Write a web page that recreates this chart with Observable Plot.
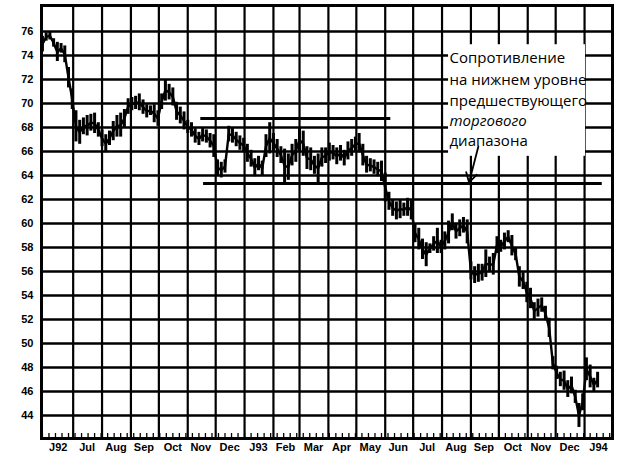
<!DOCTYPE html>
<html><head><meta charset="utf-8">
<script src="https://cdn.jsdelivr.net/npm/d3@7"></script>
<script src="https://cdn.jsdelivr.net/npm/@observablehq/plot@0.6"></script>
<style>body{margin:0;background:#fff;}</style>
</head><body><div id="chart"></div>
<script>
const startDate = "1992-05-29";
const stepDays = 4;
const highs = [
75.6,75.9,76.0,75.4,75.1,75.0,74.8,73.0,71.2,69.4,
68.6,68.8,69.0,69.1,69.2,68.4,67.8,67.4,67.7,68.5,
69.0,69.2,69.5,70.4,70.5,70.6,70.8,70.3,69.9,69.8,
69.9,69.4,70.8,72.0,71.6,71.3,70.1,69.7,69.3,68.6,
68.4,67.9,67.6,68.0,67.8,67.5,67.4,65.3,65.1,65.3,
68.1,68.0,67.6,67.3,67.1,66.6,66.1,65.4,65.6,65.2,
67.4,68.4,67.5,67.0,66.4,66.2,65.8,66.6,67.0,68.0,
67.7,66.4,66.3,65.6,65.8,66.3,66.3,66.7,66.5,66.3,
66.5,66.1,66.8,67.0,67.2,67.5,66.6,65.6,65.4,65.3,
65.1,65.2,64.2,62.6,62.0,61.8,62.0,61.7,62.1,61.9,
60.0,59.6,58.7,58.4,58.3,58.9,59.6,58.6,59.3,60.2,
60.8,60.0,60.3,60.5,60.3,56.8,56.4,56.6,56.6,57.8,
57.2,57.5,58.9,58.6,59.2,59.4,59.0,58.0,56.4,55.9,
55.1,54.6,53.4,53.7,53.8,53.1,52.1,48.9,48.1,47.6,
47.7,46.9,47.2,46.1,45.0,45.8,48.8,48.2,47.1,47.6];
const lows = [
74.3,75.2,75.3,74.7,73.5,74.2,73.4,71.3,69.5,66.8,
66.6,67.4,67.3,67.7,67.5,67.2,66.4,65.9,66.5,66.9,
67.2,67.2,68.0,69.1,69.4,69.5,69.4,69.1,68.8,69.0,
68.4,68.1,69.5,70.2,70.3,69.8,68.6,68.3,67.8,67.5,
67.2,66.7,66.5,66.8,66.7,66.3,65.5,64.0,63.8,64.2,
66.8,66.7,66.4,66.1,65.9,65.1,64.7,63.9,64.4,64.0,
65.5,65.8,65.9,65.5,65.0,63.4,63.6,64.8,65.1,65.9,
65.6,64.5,64.4,64.1,63.4,64.7,65.0,65.2,65.3,64.9,
65.2,64.8,65.3,65.6,66.0,65.9,64.8,64.2,64.3,64.1,
63.9,63.5,61.8,61.1,60.6,60.3,60.4,60.6,60.6,60.3,
58.4,57.8,57.0,56.4,57.5,57.7,57.5,57.5,57.8,58.3,
59.4,58.7,58.9,59.2,58.3,55.3,55.0,55.1,55.2,55.5,
55.9,55.7,57.5,57.6,57.8,58.4,57.3,56.9,54.7,54.5,
53.4,52.9,52.0,52.2,52.6,51.9,50.5,47.8,47.0,46.4,
46.1,45.5,45.8,45.0,43.0,44.4,46.9,46.3,46.0,46.3];

const yTicks = [44,46,48,50,52,54,56,58,60,62,64,66,68,70,72,74,76];
const monthLabels = ["J92","Jul","Aug","Sep","Oct","Nov","Dec","J93","Feb","Mar","Apr","May","Jun","Jul","Aug","Sep","Oct","Nov","Dec","J94"];
const labelDates = ["1992-06-15","1992-07-16","1992-08-16","1992-09-15","1992-10-16","1992-11-15","1992-12-16",
  "1993-01-16","1993-02-14","1993-03-16","1993-04-15","1993-05-16","1993-06-15","1993-07-16","1993-08-16",
  "1993-09-15","1993-10-16","1993-11-15","1993-12-16","1994-01-16"];
const xDomain = ["1992-05-28","1994-01-31"];
const yDomain = [42.08, 78.17];

// Horizontal lines of the trading range
const rangeLevels = [68.75, 63.33];
const rangeFrom = ["1992-11-15","1992-11-18"];
const rangeTo = ["1993-06-07","1994-01-20"];

// Annotation
const noteLines = ["Сопротивление","на нижнем уровне","предшествующего","торгового","диапазона"];
const noteValues = [73.375, 71.58, 69.83, 68.125, 66.5];
const noteDate = "1993-08-09";
const noteBox = {x1: "1993-08-08", x2: "1994-01-02", y1: 65.6, y2: 74.9};
const arrowFrom = {date: "1993-09-09", value: 66.42};
const arrowTo = {date: "1993-08-30", value: 63.42};

const D = s => new Date(s);
const data = highs.map((h, i) => ({
  date: d3.utcDay.offset(D(startDate), i * stepDays),
  hi: h, lo: lows[i], mid: (h + lows[i]) / 2
}));
const ranges = rangeLevels.map((v, i) => ({y: v, from: D(rangeFrom[i]), to: D(rangeTo[i])}));
const monthStarts = d3.utcMonth.range(D("1992-07-01"), D("1994-01-02"));
const weeks = d3.utcFriday.range(D(xDomain[0]), D(xDomain[1]));
const labelMap = new Map(labelDates.map((d, i) => [+D(d), monthLabels[i]]));
const notes = noteLines.map((t, i) => ({t, y: noteValues[i], date: D(noteDate), italic: i === 3}));

const marginTop = 5, marginBottom = 25, H = 463;
const innerH = H - marginTop - marginBottom;

const chart = Plot.plot({
  width: 629, height: H,
  marginLeft: 41, marginRight: 17, marginTop, marginBottom,
  style: {fontFamily: "Liberation Sans, Arial, sans-serif", background: "white", color: "black"},
  x: {type: "utc", domain: xDomain.map(D)},
  y: {domain: yDomain},
  marks: [
    Plot.gridY({ticks: yTicks, stroke: "black", strokeOpacity: 1, strokeWidth: 2.6}),
    Plot.gridX({ticks: monthStarts, stroke: "black", strokeOpacity: 1, strokeWidth: 2.2}),
    Plot.ruleX(weeks, {x: d => d, stroke: "black", strokeWidth: 1.3, insetTop: innerH - 5}),
    Plot.rect([noteBox], {x1: d => D(d.x1), x2: d => D(d.x2), y1: "y1", y2: "y2", fill: "white"}),
    Plot.ruleY(ranges, {y: "y", x1: "from", x2: "to", stroke: "black", strokeWidth: 3}),
    Plot.ruleX(data, {x: "date", y1: "lo", y2: "hi", stroke: "black", strokeWidth: 3}),
    Plot.line(data, {x: "date", y: "mid", stroke: "black", strokeWidth: 2.4, strokeLinejoin: "round"}),
    Plot.frame({stroke: "black", strokeWidth: 3}),
    Plot.text(notes.filter(d => !d.italic), {x: "date", y: "y", text: "t", textAnchor: "start", lineAnchor: "bottom",
      fontFamily: "Open Sans", fontSize: 15, fill: "black"}),
    Plot.text(notes.filter(d => d.italic), {x: "date", y: "y", text: "t", textAnchor: "start", lineAnchor: "bottom",
      fontFamily: "Open Sans", fontSize: 15, fontStyle: "italic", fill: "black"}),
    Plot.arrow([{}], {x1: () => D(arrowFrom.date), y1: () => arrowFrom.value, x2: () => D(arrowTo.date), y2: () => arrowTo.value,
      stroke: "black", strokeWidth: 1.8, headLength: 9}),
    Plot.axisY({ticks: yTicks, tickSize: 0, tickPadding: 8, label: null, fontSize: 11, fontWeight: "bold"}),
    Plot.axisX({ticks: labelDates.map(D), tickFormat: d => labelMap.get(+d), tickSize: 0, tickPadding: 5, label: null,
      fontSize: 11, fontWeight: "bold"})
  ]
});
document.getElementById("chart").appendChild(chart);
</script>
</body></html>
